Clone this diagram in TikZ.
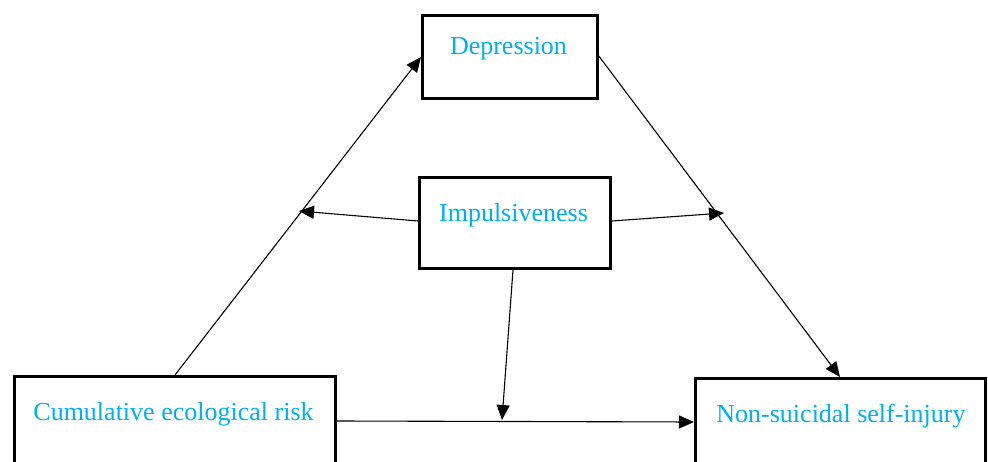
\documentclass[tikz,border=0pt]{standalone}
\usepackage{fontspec}
\setmainfont{Liberation Serif}
\usetikzlibrary{arrows.meta}
\definecolor{txtblue}{HTML}{00B0F0}
\begin{document}
\begin{tikzpicture}[x=1pt,y=-1pt,
  box/.style={draw=black,line width=2.8pt,rectangle,inner sep=0pt,anchor=north west},
  lbl/.style={text=txtblue,font=\fontsize{26}{30}\selectfont,inner sep=0pt},
  conn/.style={draw=black,line width=1.1pt,-{Triangle[length=15pt,width=13pt]}}]
\useasboundingbox (0,0) rectangle (988,462);
% boxes
\node[box,minimum width=175pt,minimum height=83pt] (dep) at (421,14) {};
\node[box,minimum width=191pt,minimum height=91pt] (imp) at (418,176) {};
\node[box,minimum width=321pt,minimum height=100pt] (cum) at (13,375) {};
\node[box,minimum width=290pt,minimum height=100pt] (nssi) at (694,377) {};
% labels
\node[lbl] (depl) at (508.5,49) {Depression};
\node[lbl] (impl) at (513.5,215) {Impulsiveness};
\node[lbl] (cuml) at (173.5,414) {Cumulative ecological risk};
\node[lbl] (nssil) at (841,416) {Non-suicidal self-injury};
% named end points
\coordinate (m1) at (299,211);
\coordinate (m2) at (724,213);
\coordinate (m3) at (502,420);
% connectors
\draw[conn] ([xshift=162pt]cum.north west) -- ([yshift=-43pt]dep.north west);
\draw[conn] ([yshift=-42pt]dep.north east) -- ([xshift=146pt]nssi.north west);
\draw[conn] ([yshift=-45pt]imp.north west) -- (m1);
\draw[conn] ([yshift=-45pt]imp.north east) -- (m2);
\draw[conn] ([xshift=95pt]imp.south west) -- (m3);
\draw[conn] ([yshift=-46pt]cum.north east) -- ([yshift=-45pt]nssi.north west);
\end{tikzpicture}
\end{document}
